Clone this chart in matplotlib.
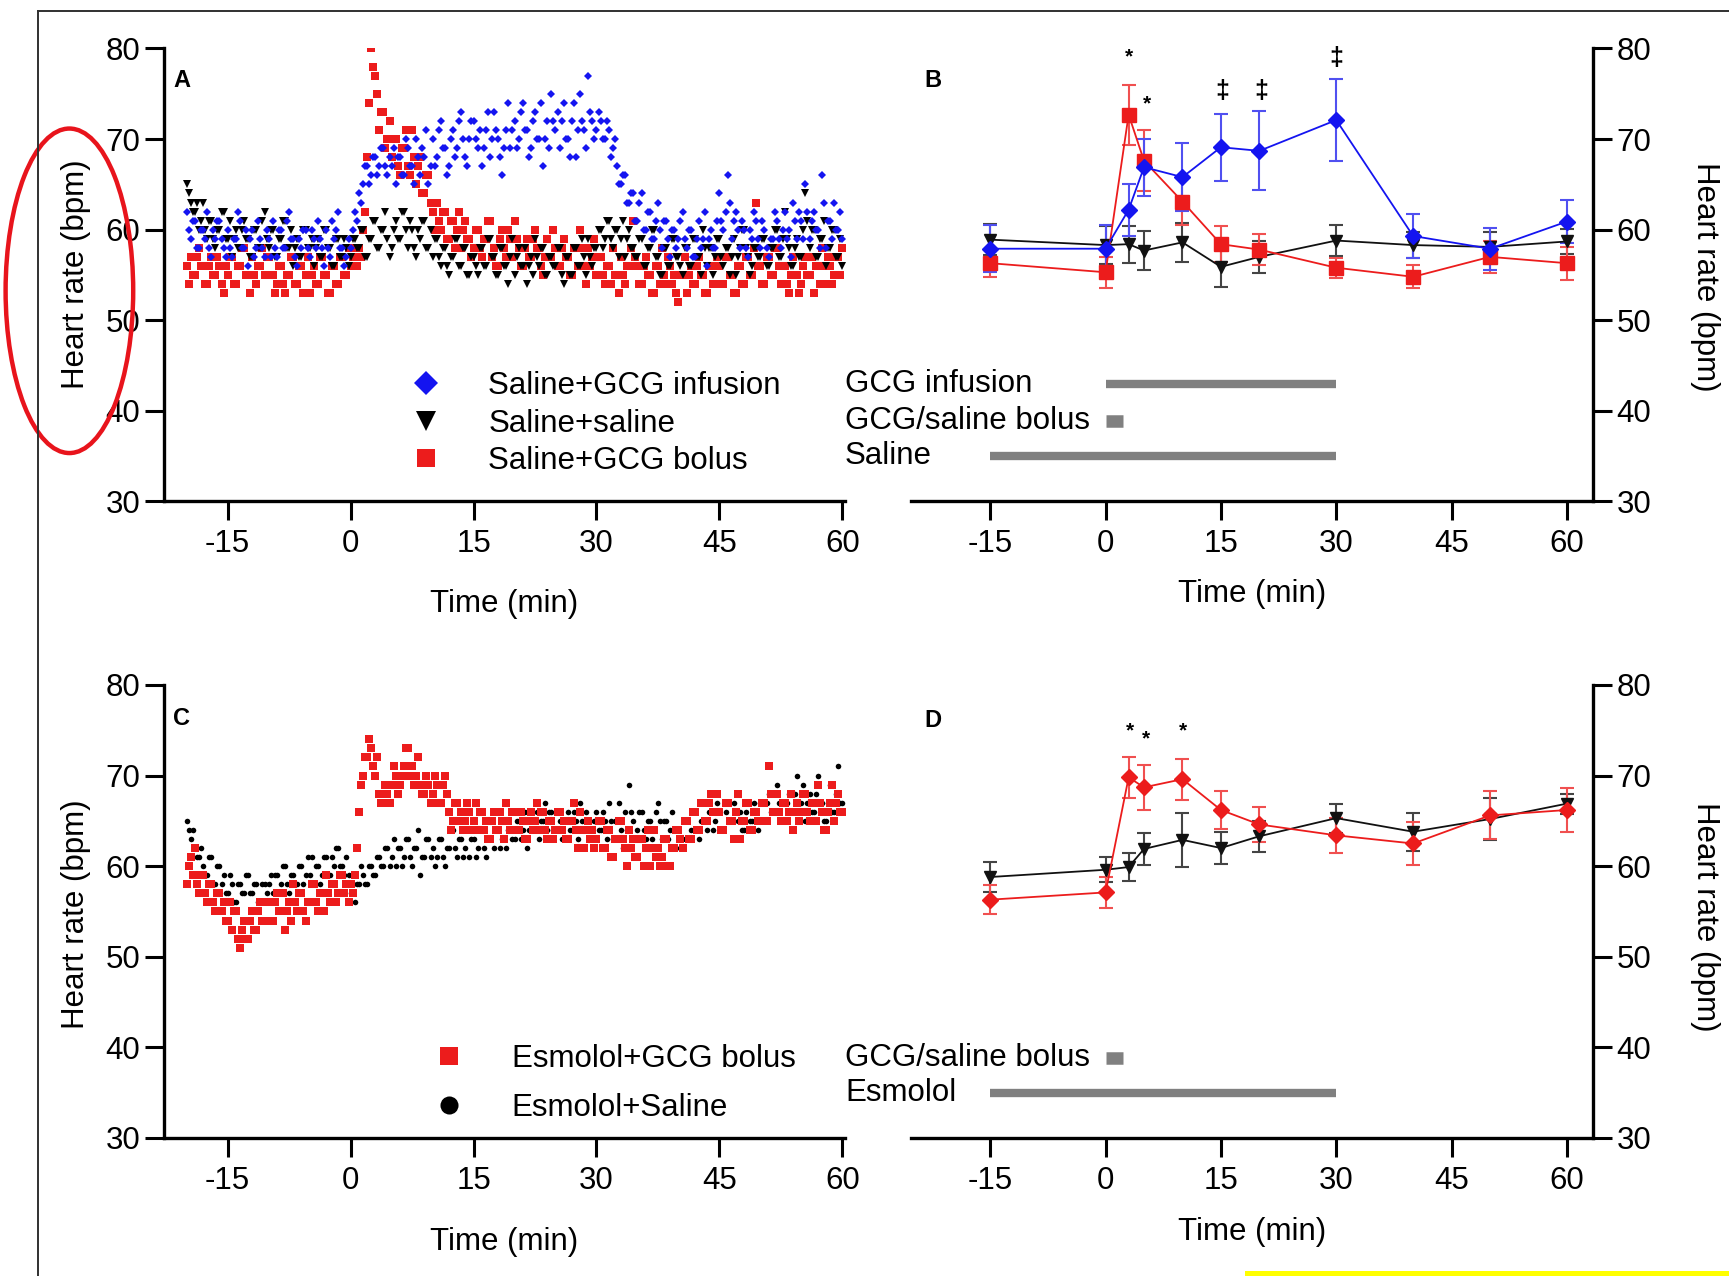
import numpy as np
import matplotlib.pyplot as plt
from matplotlib.lines import Line2D
from matplotlib.patches import Ellipse, Rectangle

plt.rcParams['font.family'] = ['Liberation Sans', 'DejaVu Sans']
plt.rcParams['axes.unicode_minus'] = False

FS = 22.5
BLUE = '#1414f0'
RED = '#ec1c1c'
GREY = '#808080'

# continuous recordings, sampled every 0.25 min from -20 to 60 (20 values per 5 min)
t_cont = np.arange(-20, 60.25, 0.25)

hr_a_gcg_inf = [
    62, 60, 59, 61, 61, 58, 58, 60, 60, 59, 62, 58, 57, 60, 59, 61, 61, 59, 58, 57,
    60, 58, 57, 59, 59, 62, 61, 58, 58, 60, 56, 59, 60, 57, 58, 61, 59, 58, 57, 60,
    59, 57, 61, 58, 57, 60, 60, 58, 58, 61, 62, 59, 59, 57, 56, 59, 58, 60, 60, 58,
    57, 60, 59, 58, 61, 59, 58, 56, 60, 58, 57, 61, 59, 60, 62, 58, 58, 56, 57, 59,
    58, 60, 62, 61, 64, 63, 65, 67, 67, 65, 66, 68, 68, 66, 67, 69, 69, 67, 66, 68,
    67, 69, 65, 68, 68, 66, 66, 70, 69, 67, 67, 65, 70, 68, 66, 69, 68, 71, 65, 67,
    70, 67, 68, 71, 72, 69, 69, 66, 67, 70, 71, 68, 69, 72, 73, 70, 68, 67, 70, 72,
    72, 70, 69, 71, 67, 69, 71, 73, 68, 70, 73, 71, 70, 68, 66, 69, 71, 74, 69, 71,
    72, 69, 70, 73, 74, 71, 71, 68, 69, 72, 73, 70, 70, 74, 67, 70, 72, 69, 75, 72,
    71, 73, 69, 72, 74, 70, 70, 68, 72, 74, 68, 71, 75, 72, 71, 69, 77, 73, 72, 70,
    71, 73, 72, 70, 70, 72, 71, 68, 69, 70, 67, 65, 65, 66, 66, 63, 63, 64, 64, 61,
    61, 63, 64, 60, 60, 62, 62, 59, 59, 61, 63, 60, 58, 61, 61, 59, 57, 60, 60, 58,
    59, 61, 62, 59, 58, 60, 60, 57, 57, 59, 61, 58, 59, 62, 56, 59, 60, 58, 58, 61,
    64, 61, 60, 62, 66, 63, 59, 61, 62, 60, 58, 61, 60, 58, 57, 60, 59, 62, 61, 59,
    58, 61, 60, 58, 57, 59, 59, 62, 61, 59, 58, 60, 62, 59, 60, 57, 63, 61, 59, 62,
    61, 59, 65, 62, 59, 61, 62, 60, 60, 58, 66, 63, 58, 61, 61, 59, 63, 60, 60, 62,
    59]
hr_a_saline = [
    65, 64, 63, 62, 62, 63, 60, 61, 63, 60, 59, 61, 61, 59, 58, 60, 60, 62, 62, 59,
    59, 61, 57, 59, 60, 58, 58, 60, 61, 59, 59, 57, 57, 60, 60, 58, 58, 61, 62, 59,
    58, 60, 60, 57, 57, 59, 59, 61, 61, 58, 58, 60, 56, 58, 59, 57, 57, 60, 60, 58,
    58, 59, 56, 58, 59, 57, 57, 60, 60, 58, 58, 56, 56, 59, 59, 57, 57, 59, 58, 56,
    57, 59, 59, 58, 58, 60, 60, 57, 57, 59, 59, 61, 61, 58, 58, 60, 60, 62, 59, 57,
    58, 60, 61, 59, 59, 62, 62, 60, 58, 61, 60, 58, 57, 60, 59, 61, 61, 58, 58, 60,
    57, 59, 59, 57, 56, 58, 58, 56, 55, 57, 57, 59, 59, 56, 56, 58, 58, 55, 55, 57,
    57, 56, 55, 58, 58, 56, 56, 59, 59, 57, 57, 55, 55, 58, 58, 56, 56, 54, 57, 59,
    55, 57, 58, 56, 56, 58, 54, 56, 57, 55, 59, 57, 56, 58, 58, 55, 55, 57, 57, 56,
    56, 58, 58, 55, 54, 57, 57, 55, 55, 58, 58, 56, 56, 59, 57, 55, 59, 57, 56, 58,
    58, 60, 60, 58, 59, 61, 61, 59, 58, 60, 60, 57, 59, 61, 57, 59, 60, 58, 58, 57,
    57, 59, 59, 56, 56, 58, 58, 60, 60, 57, 57, 55, 55, 58, 58, 56, 56, 59, 59, 57,
    57, 56, 55, 58, 58, 56, 56, 59, 59, 57, 57, 55, 60, 58, 56, 58, 58, 55, 57, 59,
    59, 57, 56, 58, 58, 55, 57, 59, 55, 57, 58, 60, 60, 58, 57, 55, 56, 58, 58, 57,
    57, 59, 59, 56, 56, 58, 58, 60, 60, 57, 57, 59, 62, 59, 58, 56, 56, 58, 59, 57,
    57, 60, 64, 61, 58, 60, 60, 57, 57, 59, 59, 61, 56, 58, 58, 60, 60, 57, 57, 59,
    56]
hr_a_gcg_bolus = [
    56, 54, 57, 55, 55, 57, 58, 56, 56, 54, 54, 56, 57, 55, 55, 57, 56, 54, 53, 56,
    55, 57, 57, 54, 54, 56, 56, 58, 58, 55, 55, 53, 57, 55, 54, 56, 56, 58, 55, 57,
    57, 55, 55, 53, 54, 56, 56, 54, 53, 55, 55, 57, 57, 54, 54, 56, 56, 53, 55, 57,
    53, 55, 56, 54, 54, 57, 57, 55, 55, 53, 53, 56, 56, 54, 54, 57, 57, 55, 55, 58,
    56, 57, 58, 56, 58, 57, 60, 62, 68, 74, 80, 78, 77, 75, 71, 73, 73, 69, 70, 72,
    68, 70, 70, 67, 66, 69, 69, 71, 67, 66, 71, 68, 65, 67, 68, 64, 64, 66, 66, 63,
    62, 60, 63, 61, 60, 62, 62, 59, 59, 61, 61, 58, 60, 62, 58, 60, 61, 59, 59, 57,
    58, 60, 60, 58, 57, 59, 59, 61, 61, 57, 58, 56, 56, 59, 60, 58, 57, 60, 59, 57,
    61, 59, 58, 56, 56, 58, 59, 57, 57, 59, 60, 58, 58, 56, 55, 57, 59, 57, 57, 60,
    58, 56, 56, 58, 59, 57, 57, 55, 55, 58, 58, 56, 60, 58, 56, 54, 58, 56, 57, 59,
    55, 57, 57, 55, 54, 56, 56, 54, 58, 55, 55, 53, 57, 55, 54, 56, 56, 58, 61, 57,
    56, 54, 54, 56, 57, 55, 55, 53, 53, 56, 56, 54, 58, 55, 54, 57, 56, 54, 55, 53,
    52, 55, 55, 57, 53, 55, 56, 54, 54, 56, 57, 55, 55, 53, 53, 56, 56, 54, 54, 57,
    56, 54, 54, 57, 57, 55, 55, 53, 53, 56, 56, 54, 54, 57, 57, 55, 55, 58, 63, 56,
    56, 54, 54, 57, 57, 55, 55, 58, 58, 56, 54, 56, 56, 54, 53, 55, 57, 55, 55, 53,
    54, 56, 57, 55, 55, 57, 53, 56, 56, 54, 58, 56, 54, 57, 56, 54, 55, 57, 57, 55,
    58]
hr_c_esm_gcg = [
    58, 60, 61, 59, 62, 58, 57, 59, 59, 57, 56, 58, 58, 56, 55, 57, 57, 55, 56, 54,
    54, 56, 53, 55, 55, 52, 51, 53, 54, 52, 52, 54, 55, 53, 53, 55, 56, 54, 54, 56,
    56, 54, 54, 56, 57, 55, 55, 57, 53, 55, 56, 54, 58, 56, 55, 57, 57, 55, 54, 56,
    56, 58, 58, 56, 55, 57, 57, 55, 59, 57, 56, 58, 58, 56, 57, 59, 59, 57, 58, 56,
    58, 57, 59, 62, 66, 69, 70, 72, 72, 74, 73, 71, 70, 72, 68, 67, 67, 69, 68, 67,
    69, 71, 70, 68, 69, 70, 71, 73, 73, 70, 71, 69, 70, 72, 69, 68, 68, 70, 69, 67,
    68, 70, 69, 67, 67, 69, 70, 68, 66, 64, 65, 67, 67, 65, 66, 64, 65, 67, 66, 64,
    65, 67, 64, 66, 66, 64, 65, 63, 63, 65, 66, 64, 64, 66, 65, 63, 67, 65, 64, 66,
    66, 64, 64, 66, 65, 63, 63, 65, 66, 64, 65, 67, 64, 66, 66, 64, 63, 65, 65, 63,
    64, 66, 66, 64, 65, 63, 63, 65, 65, 67, 64, 62, 66, 64, 62, 64, 65, 63, 64, 62,
    63, 65, 65, 62, 62, 64, 64, 61, 61, 63, 63, 65, 65, 63, 62, 60, 64, 62, 63, 61,
    61, 63, 63, 60, 62, 64, 60, 62, 64, 61, 62, 60, 61, 63, 63, 60, 60, 62, 62, 64,
    64, 63, 62, 65, 65, 63, 63, 66, 66, 64, 64, 67, 67, 65, 65, 67, 68, 66, 66, 68,
    66, 64, 64, 67, 67, 65, 65, 63, 66, 68, 63, 65, 65, 67, 67, 64, 64, 66, 66, 65,
    65, 67, 67, 65, 71, 68, 66, 68, 68, 66, 65, 67, 67, 65, 66, 68, 64, 66, 67, 65,
    66, 68, 68, 66, 65, 67, 67, 65, 69, 67, 66, 64, 64, 66, 67, 69, 65, 67, 68, 66,
    66]
hr_c_esm_saline = [
    65, 64, 63, 64, 62, 61, 61, 62, 60, 59, 59, 61, 61, 58, 58, 60, 60, 58, 59, 57,
    57, 59, 58, 56, 56, 58, 58, 57, 57, 59, 59, 57, 57, 58, 58, 56, 56, 58, 58, 57,
    58, 59, 57, 59, 59, 57, 58, 60, 60, 58, 57, 59, 59, 58, 58, 60, 60, 58, 59, 61,
    59, 61, 58, 60, 60, 58, 59, 61, 61, 59, 59, 61, 60, 62, 62, 60, 60, 59, 61, 59,
    57, 58, 56, 58, 58, 60, 59, 58, 58, 60, 60, 59, 59, 61, 61, 60, 60, 62, 62, 60,
    61, 63, 60, 62, 62, 60, 61, 63, 63, 61, 60, 62, 62, 64, 59, 61, 61, 63, 63, 61,
    62, 60, 61, 63, 63, 61, 60, 62, 62, 64, 64, 62, 61, 63, 63, 61, 62, 64, 61, 63,
    63, 61, 62, 64, 64, 62, 61, 63, 63, 65, 62, 64, 64, 62, 63, 65, 62, 64, 64, 63,
    63, 65, 65, 63, 64, 66, 62, 64, 66, 64, 64, 66, 63, 65, 65, 67, 64, 66, 66, 64,
    64, 66, 65, 63, 63, 65, 66, 64, 64, 66, 65, 63, 67, 65, 64, 66, 65, 63, 63, 65,
    66, 64, 64, 66, 65, 63, 67, 65, 63, 65, 65, 67, 64, 62, 66, 64, 69, 66, 65, 63,
    64, 66, 66, 64, 63, 65, 65, 63, 64, 66, 67, 65, 63, 65, 65, 63, 64, 66, 62, 64,
    64, 62, 63, 65, 65, 63, 64, 66, 66, 64, 63, 65, 65, 67, 64, 66, 66, 64, 65, 67,
    66, 64, 64, 66, 67, 65, 65, 67, 63, 65, 66, 64, 64, 66, 67, 65, 65, 67, 66, 64,
    67, 65, 65, 67, 68, 66, 66, 68, 69, 67, 67, 65, 65, 67, 68, 66, 66, 68, 70, 67,
    67, 69, 65, 67, 68, 66, 66, 68, 70, 67, 67, 65, 65, 67, 69, 66, 66, 68, 71, 67,
    67]

# sampled means +/- SEM (panels B and D)
t_pts = [-15, 0, 3, 5, 10, 15, 20, 30, 40, 50, 60]
b_inf_mean = [57.9, 57.9, 62.2, 66.9, 65.8, 69.1, 68.7, 72.1, 59.3, 57.9, 60.9]
b_inf_sem = [2.6, 2.6, 2.85, 3.15, 3.75, 3.7, 4.35, 4.5, 2.45, 2.3, 2.4]
b_bol_mean = [56.3, 55.3, 72.7, 67.6, 63.1, 58.4, 57.8, 55.8, 54.8, 57.0, 56.3]
b_bol_sem = [1.5, 1.7, 3.3, 3.35, 2.6, 2.0, 1.7, 1.1, 1.25, 1.75, 1.8]
b_sal_mean = [58.9, 58.3, 58.4, 57.7, 58.6, 55.9, 57.0, 58.8, 58.3, 58.1, 58.7]
b_sal_sem = [1.7, 2.1, 2.05, 2.1, 2.15, 2.25, 1.8, 1.7, 1.4, 1.6, 1.4]
d_gcg_mean = [56.3, 57.1, 69.8, 68.7, 69.6, 66.2, 64.6, 63.4, 62.5, 65.6, 66.2]
d_gcg_sem = [1.6, 1.7, 2.3, 2.5, 2.25, 2.1, 1.9, 1.95, 2.4, 2.65, 2.45]
d_sal_mean = [58.8, 59.6, 59.9, 61.9, 62.9, 62.0, 63.3, 65.3, 63.8, 65.2, 66.9]
d_sal_sem = [1.7, 1.4, 1.55, 1.8, 2.95, 1.8, 1.7, 1.6, 2.1, 2.35, 1.1]

# significance marks: (time, bpm, symbol)
b_marks = [(3.0, 79.1, '*'), (5.4, 73.9, '*'), (15.2, 75.3, '‡'),
           (20.2, 75.3, '‡'), (30.0, 78.9, '‡')]
d_marks = [(3.2, 74.9, '*'), (5.3, 74.1, '*'), (10.1, 74.9, '*')]

# treatment periods: (label, start, end, level, width)
b_phases = [('GCG infusion', 0, 30, 43.0, 6),
            ('GCG/saline bolus', 0, 2.3, 38.9, 9),
            ('Saline', -15, 30, 35.0, 6)]
d_phases = [('GCG/saline bolus', 0, 2.3, 38.8, 9),
            ('Esmolol', -15, 30, 35.0, 6)]

fig = plt.figure(figsize=(17.29, 12.76), dpi=100)
axA = fig.add_axes([0.0947, 0.6070, 0.3939, 0.3550])
axB = fig.add_axes([0.5269, 0.6070, 0.3945, 0.3550])
axC = fig.add_axes([0.0947, 0.1082, 0.3939, 0.3550])
axD = fig.add_axes([0.5269, 0.1082, 0.3945, 0.3550])


def style(ax, side, xlim):
    ax.set_xlim(*xlim)
    ax.set_ylim(30, 80)
    ax.set_xticks([-15, 0, 15, 30, 45, 60])
    ax.set_yticks([30, 40, 50, 60, 70, 80])
    for s in ['top', 'left', 'right']:
        ax.spines[s].set_visible(False)
    ax.spines[side].set_visible(True)
    for s in ['bottom', side]:
        ax.spines[s].set_linewidth(2.4)
    ax.tick_params(axis='both', length=14, width=2.2, labelsize=FS)
    ax.tick_params(axis='x', pad=6)
    ax.tick_params(axis='y', pad=3)
    if side == 'right':
        ax.yaxis.tick_right()
        ax.yaxis.set_label_position('right')


for ax in (axA, axC):
    style(ax, 'left', (-22.8, 60.3))
for ax in (axB, axD):
    style(ax, 'right', (-25.3, 63.4))

# panel A
axA.plot(t_cont, hr_a_gcg_bolus, ls='none', marker='s', ms=5.5, mew=0, color=RED)
axA.plot(t_cont, hr_a_saline, ls='none', marker='v', ms=5.5, mew=0, color='black')
axA.plot(t_cont, hr_a_gcg_inf, ls='none', marker='D', ms=4.5, mew=0, color=BLUE)
hA = [Line2D([], [], ls='none', marker='D', ms=12, mew=0, color=BLUE),
      Line2D([], [], ls='none', marker='v', ms=14, mew=0, color='black'),
      Line2D([], [], ls='none', marker='s', ms=13, mew=0, color=RED)]
axA.legend(hA, ['Saline+GCG infusion', 'Saline+saline', 'Saline+GCG bolus'],
           loc='center left', bbox_to_anchor=(0.362, 0.172), frameon=False,
           handlelength=1.0, handletextpad=1.5, labelspacing=0.25,
           borderpad=0, borderaxespad=0, fontsize=FS)

# panel C
axC.plot(t_cont, hr_c_esm_saline, ls='none', marker='o', ms=4, mew=0, color='black')
axC.plot(t_cont, hr_c_esm_gcg, ls='none', marker='s', ms=5.5, mew=0, color=RED)
hC = [Line2D([], [], ls='none', marker='s', ms=13, mew=0, color=RED),
      Line2D([], [], ls='none', marker='o', ms=13, mew=0, color='black')]
axC.legend(hC, ['Esmolol+GCG bolus', 'Esmolol+Saline'],
           loc='center left', bbox_to_anchor=(0.396, 0.12), frameon=False,
           handlelength=1.0, handletextpad=1.5, labelspacing=0.62,
           borderpad=0, borderaxespad=0, fontsize=FS)

# panel B
axB.errorbar(t_pts, b_sal_mean, yerr=b_sal_sem, color='#111111', ecolor='#444444',
             marker='v', ms=9, lw=1.3, elinewidth=1.5, capsize=5, capthick=1.5)
axB.errorbar(t_pts, b_bol_mean, yerr=b_bol_sem, color=RED, ecolor='#f05050',
             marker='s', ms=10, lw=1.3, elinewidth=1.5, capsize=5, capthick=1.5)
axB.errorbar(t_pts, b_inf_mean, yerr=b_inf_sem, color=BLUE, ecolor='#5050f0',
             marker='D', ms=8, lw=1.3, elinewidth=1.5, capsize=5, capthick=1.5)

# panel D
axD.errorbar(t_pts, d_sal_mean, yerr=d_sal_sem, color='#111111', ecolor='#444444',
             marker='v', ms=9, lw=1.3, elinewidth=1.5, capsize=5, capthick=1.5)
axD.errorbar(t_pts, d_gcg_mean, yerr=d_gcg_sem, color=RED, ecolor='#f05050',
             marker='D', ms=8, lw=1.3, elinewidth=1.5, capsize=5, capthick=1.5)

for ax, marks in ((axB, b_marks), (axD, d_marks)):
    for x, y, s in marks:
        ax.text(x, y, s, ha='center', va='center',
                fontsize=15 if s == '*' else 18, fontweight='bold')

for ax, phases in ((axB, b_phases), (axD, d_phases)):
    for label, x0, x1, y, w in phases:
        ax.hlines(y, x0, x1, color=GREY, lw=w, capstyle='butt')
        ax.text(-33.9, y, label, ha='left', va='center', fontsize=FS,
                clip_on=False)

# panel letters
for ax, letter, x, y in ((axA, 'A', 0.014, 0.955), (axB, 'B', 0.019, 0.955),
                         (axC, 'C', 0.014, 0.951), (axD, 'D', 0.020, 0.947)):
    ax.text(x, y, letter, transform=ax.transAxes, ha='left', va='top',
            fontsize=17, fontweight='bold')

# axis labels
for ax, xy, yy in ((axA, -0.226, 0.502), (axC, -0.229, 0.495)):
    ax.set_xlabel('Time (min)', fontsize=FS)
    ax.xaxis.set_label_coords(0.5, xy)
    ax.xaxis.label.set_va('center')
    ax.set_ylabel('Heart rate (bpm)', fontsize=FS)
    ax.yaxis.set_label_coords(-0.129, yy)
    ax.yaxis.label.set_va('center')
for ax, xy, yy in ((axB, -0.204, 0.496), (axD, -0.2075, 0.488)):
    ax.set_xlabel('Time (min)', fontsize=FS)
    ax.xaxis.set_label_coords(0.5, xy)
    ax.xaxis.label.set_va('center')
    ax.set_ylabel('Heart rate (bpm)', fontsize=FS, rotation=-90)
    ax.yaxis.set_label_coords(1.164, yy)
    ax.yaxis.label.set_va('center')

# page frame, highlight ellipse and yellow mark
W, H = 1729, 1276
fig.add_artist(Line2D([37.5 / W, 1], [1 - 10.5 / H] * 2, color='#303030', lw=1.4))
fig.add_artist(Line2D([37.5 / W] * 2, [0, 1 - 10.5 / H], color='#303030', lw=1.4))
fig.add_artist(Ellipse((69.4 / W, 1 - 290.8 / H), 127.6 / W, 324.5 / H,
                       transform=fig.transFigure, fill=False,
                       edgecolor='#e8141c', lw=3.2))
fig.add_artist(Rectangle((1245 / W, 0), (W - 1245) / W, 5.5 / H,
                         transform=fig.transFigure, color='#ffff00', lw=0))

fig.savefig('out.png', dpi=100)
